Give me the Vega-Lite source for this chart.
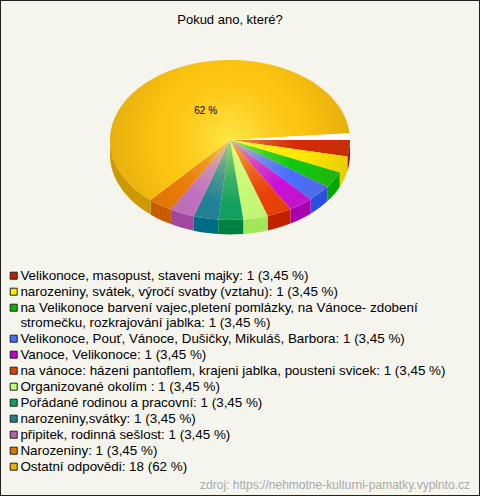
{"$schema":"https://vega.github.io/schema/vega-lite/v6.json","width":480,"height":496,"autosize":"none","padding":0,"background":"#f5f5ee","config":{"font":"Liberation Sans","view":{"stroke":"#222","strokeWidth":2,"fill":"#f5f5ee"}},"title":{"text":"Pokud ano, které?","fontSize":13,"font":"Liberation Sans","fontWeight":"normal","color":"#000","anchor":"middle","dx":-10,"offset":-27},
"resolve":{"scale":{"color":"independent"},"legend":{"color":"independent"}},
"data":{"values":[
{"poradi":1,"label":"Velikonoce, masopust, staveni majky: 1 (3,45 %)","pocet":1,"podil":3.32},
{"poradi":2,"label":"narozeniny, svátek, výročí svatby (vztahu): 1 (3,45 %)","pocet":1,"podil":3.32},
{"poradi":3,"label":"na Velikonoce barvení vajec,pletení pomlázky, na Vánoce- zdobení stromečku, rozkrajování jablka: 1 (3,45 %)","pocet":1,"podil":3.32},
{"poradi":4,"label":"Velikonoce, Pouť, Vánoce, Dušičky, Mikuláš, Barbora: 1 (3,45 %)","pocet":1,"podil":3.32},
{"poradi":5,"label":"Vanoce, Velikonoce: 1 (3,45 %)","pocet":1,"podil":3.32},
{"poradi":6,"label":"na vánoce: házeni pantoflem, krajeni jablka, pousteni svicek: 1 (3,45 %)","pocet":1,"podil":3.32},
{"poradi":7,"label":"Organizované okolím : 1 (3,45 %)","pocet":1,"podil":3.32},
{"poradi":8,"label":"Pořádané rodinou a pracovní: 1 (3,45 %)","pocet":1,"podil":3.32},
{"poradi":9,"label":"narozeniny,svátky: 1 (3,45 %)","pocet":1,"podil":3.32},
{"poradi":10,"label":"připitek, rodinná sešlost: 1 (3,45 %)","pocet":1,"podil":3.32},
{"poradi":11,"label":"Narozeniny: 1 (3,45 %)","pocet":1,"podil":3.32},
{"poradi":12,"label":"Ostatní odpovědi: 18 (62 %)","pocet":18,"podil":62.1}
]},
"transform":[
{"window":[{"op":"sum","field":"podil","as":"konec"}],"sort":[{"field":"poradi"}]},
{"calculate":"(datum.konec-datum.podil)*3.6*PI/180","as":"a0"},
{"calculate":"datum.konec*3.6*PI/180","as":"a1"},
{"calculate":"round(100*(-10+120*cos(datum.a0)))/100","as":"x0"},
{"calculate":"round(100*(-108+80*sin(datum.a0)))/100","as":"y0"},
{"calculate":"round(100*(-10+120*cos(datum.a1)))/100","as":"x1"},
{"calculate":"round(100*(-108+80*sin(datum.a1)))/100","as":"y1"},
{"calculate":"'M-10,-108 L'+datum.x0+','+datum.y0+' A120,80 0 '+(datum.a1-datum.a0>PI?1:0)+' 1 '+datum.x1+','+datum.y1+' Z'","as":"vysec"},
{"calculate":"min(datum.a0,PI)","as":"b0"},
{"calculate":"min(datum.a1,PI)","as":"b1"},
{"calculate":"round(100*(-10+120*cos(datum.b0)))/100","as":"u0"},
{"calculate":"round(100*(-108+80*sin(datum.b0)))/100","as":"v0"},
{"calculate":"round(100*(-10+120*cos(datum.b1)))/100","as":"u1"},
{"calculate":"round(100*(-108+80*sin(datum.b1)))/100","as":"v1"},
{"calculate":"'M'+datum.u0+','+datum.v0+' A120,80 0 0 1 '+datum.u1+','+datum.v1+' L'+datum.u1+','+(datum.v1+14.5)+' A120,80 0 0 0 '+datum.u0+','+(datum.v0+14.5)+' Z'","as":"stena"},
{"calculate":"230+0.45*120*cos((datum.a0+datum.a1)/2)","as":"lx"},
{"calculate":"140+0.41*80*sin((datum.a0+datum.a1)/2)","as":"ly"}
],
"layer":[
{"mark":{"type":"point","filled":true,"opacity":1,"size":4},"encoding":{"shape":{"field":"stena","type":"nominal","scale":null},"color":{"field":"label","type":"nominal","legend":null,"sort":null,"scale":{"range":["#a81000","#e8d000","#00a800","#2850e0","#a800b0","#c42000","#a0e858","#008040","#006b85","#a048a0","#c85a00","#cc9a00"]}}}},
{"mark":{"type":"point","filled":true,"opacity":1,"size":4},"encoding":{"shape":{"field":"vysec","type":"nominal","scale":null},"color":{"field":"label","type":"nominal","legend":null,"sort":null,"scale":{"range":["#d42a08","#ffe800","#10c810","#4a70ff","#c810d8","#e84008","#c4f878","#10a060","#208098","#c070c0","#e87a08","#fdc410"]}}}},
{"mark":{"type":"square","opacity":1,"size":0},"encoding":{"color":{"field":"label","type":"nominal","sort":null,"scale":{"range":["#c42000","#ffe800","#00bb00","#4070ff","#c000d0","#e04000","#c0ff70","#10a060","#208098","#b060b0","#e07800","#e8b000"]},"legend":{"title":null,"orient":"none","legendX":7,"legendY":269,"padding":0,"symbolType":"square","symbolSize":49,"symbolStrokeColor":"#222","symbolStrokeWidth":1,"symbolOpacity":1,"labelFont":"Liberation Sans","labelFontSize":13.4,"labelColor":"#000","labelLimit":470,"labelOffset":0,"rowPadding":1,"columnPadding":0,"labelExpr":"indexof(datum.label,'stromečku')>=0?['na Velikonoce barvení vajec,pletení pomlázky, na Vánoce- zdobení','stromečku, rozkrajování jablka: 1 (3,45 %)']:datum.label"}}}},
{"data":{"values":[{"vrstva":"lesk"}]},"mark":{"type":"point","filled":true,"opacity":1,"size":4,"shape":"M-130,-108 A120,80 0 1 1 110,-108 A120,80 0 1 1 -130,-108 Z","fill":{"gradient":"radial","x1":0.5,"y1":0.5,"r1":0,"x2":0.5,"y2":0.5,"r2":0.5,"stops":[{"offset":0,"color":"rgba(255,255,100,0.6)"},{"offset":0.3,"color":"rgba(255,255,120,0.2)"},{"offset":0.55,"color":"rgba(255,255,120,0)"},{"offset":0.6,"color":"rgba(120,70,0,0)"},{"offset":1,"color":"rgba(120,70,0,0.16)"}]}}},
{"data":{"values":[{"vrstva":"mezera"}]},"mark":{"type":"point","filled":true,"opacity":1,"size":4,"color":"#ffffff","shape":"M-10,-108 L109.6,-114.7 L110,-108 Z"}},
{"transform":[{"filter":"datum.poradi==12"}],"mark":{"type":"text","fontSize":10,"font":"Liberation Sans","color":"#000","align":"center","baseline":"middle"},"encoding":{"x":{"field":"lx","type":"quantitative","scale":null},"y":{"field":"ly","type":"quantitative","scale":null},"text":{"value":"62 %"}}},
{"data":{"values":[{"zdroj":"zdroj: https://nehmotne-kulturni-pamatky.vyplnto.cz"}]},"mark":{"type":"text","fontSize":12,"font":"Liberation Sans","color":"#aaaaaa","align":"right","baseline":"middle"},"encoding":{"x":{"value":470},"y":{"value":484.5},"text":{"field":"zdroj"}}}
]}
